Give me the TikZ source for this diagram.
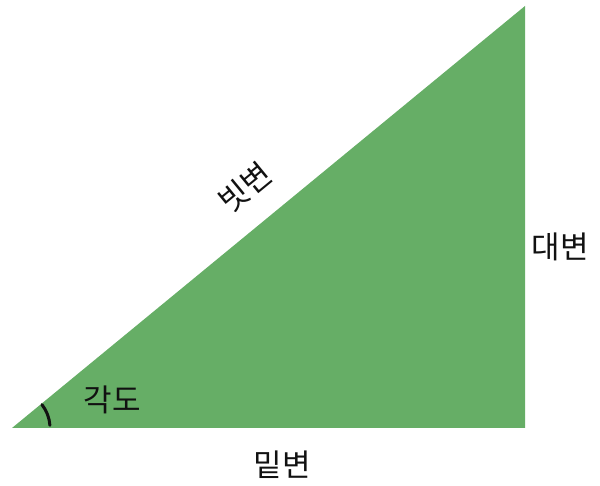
\documentclass[tikz,border=0pt]{standalone}
\usepackage{fontspec}
\newfontfamily\kr{Noto Sans CJK KR}
\usetikzlibrary{calc,positioning}
\definecolor{leaf}{HTML}{66AE66}
\definecolor{ink}{HTML}{111111}

\begin{document}
\begin{tikzpicture}[x=1pt,y=1pt,font=\kr\fontsize{31}{36}\selectfont]
\tikzset{side/.style={text=ink,inner sep=0pt}}
\useasboundingbox (0,0) rectangle (600,486);
% triangle corners
\coordinate (A) at (12,58); \coordinate (B) at (525,58); \coordinate (C) at (525,480);
\fill[leaf] (A) -- (B) -- (C) -- cycle;
\draw[ink,line width=3pt,line cap=round] ($(A)+(4:38)$) arc[start angle=4,end angle=38,radius=38];
\node[side,rotate=39.4] (hyp) at (245,299) {빗변};
\node[side] (opp) at (560,239) {대변};
\node[side] (ang) at (112,86) {각도};
\node[side] (adj) at (282,21) {밑변};
\end{tikzpicture}
\end{document}
